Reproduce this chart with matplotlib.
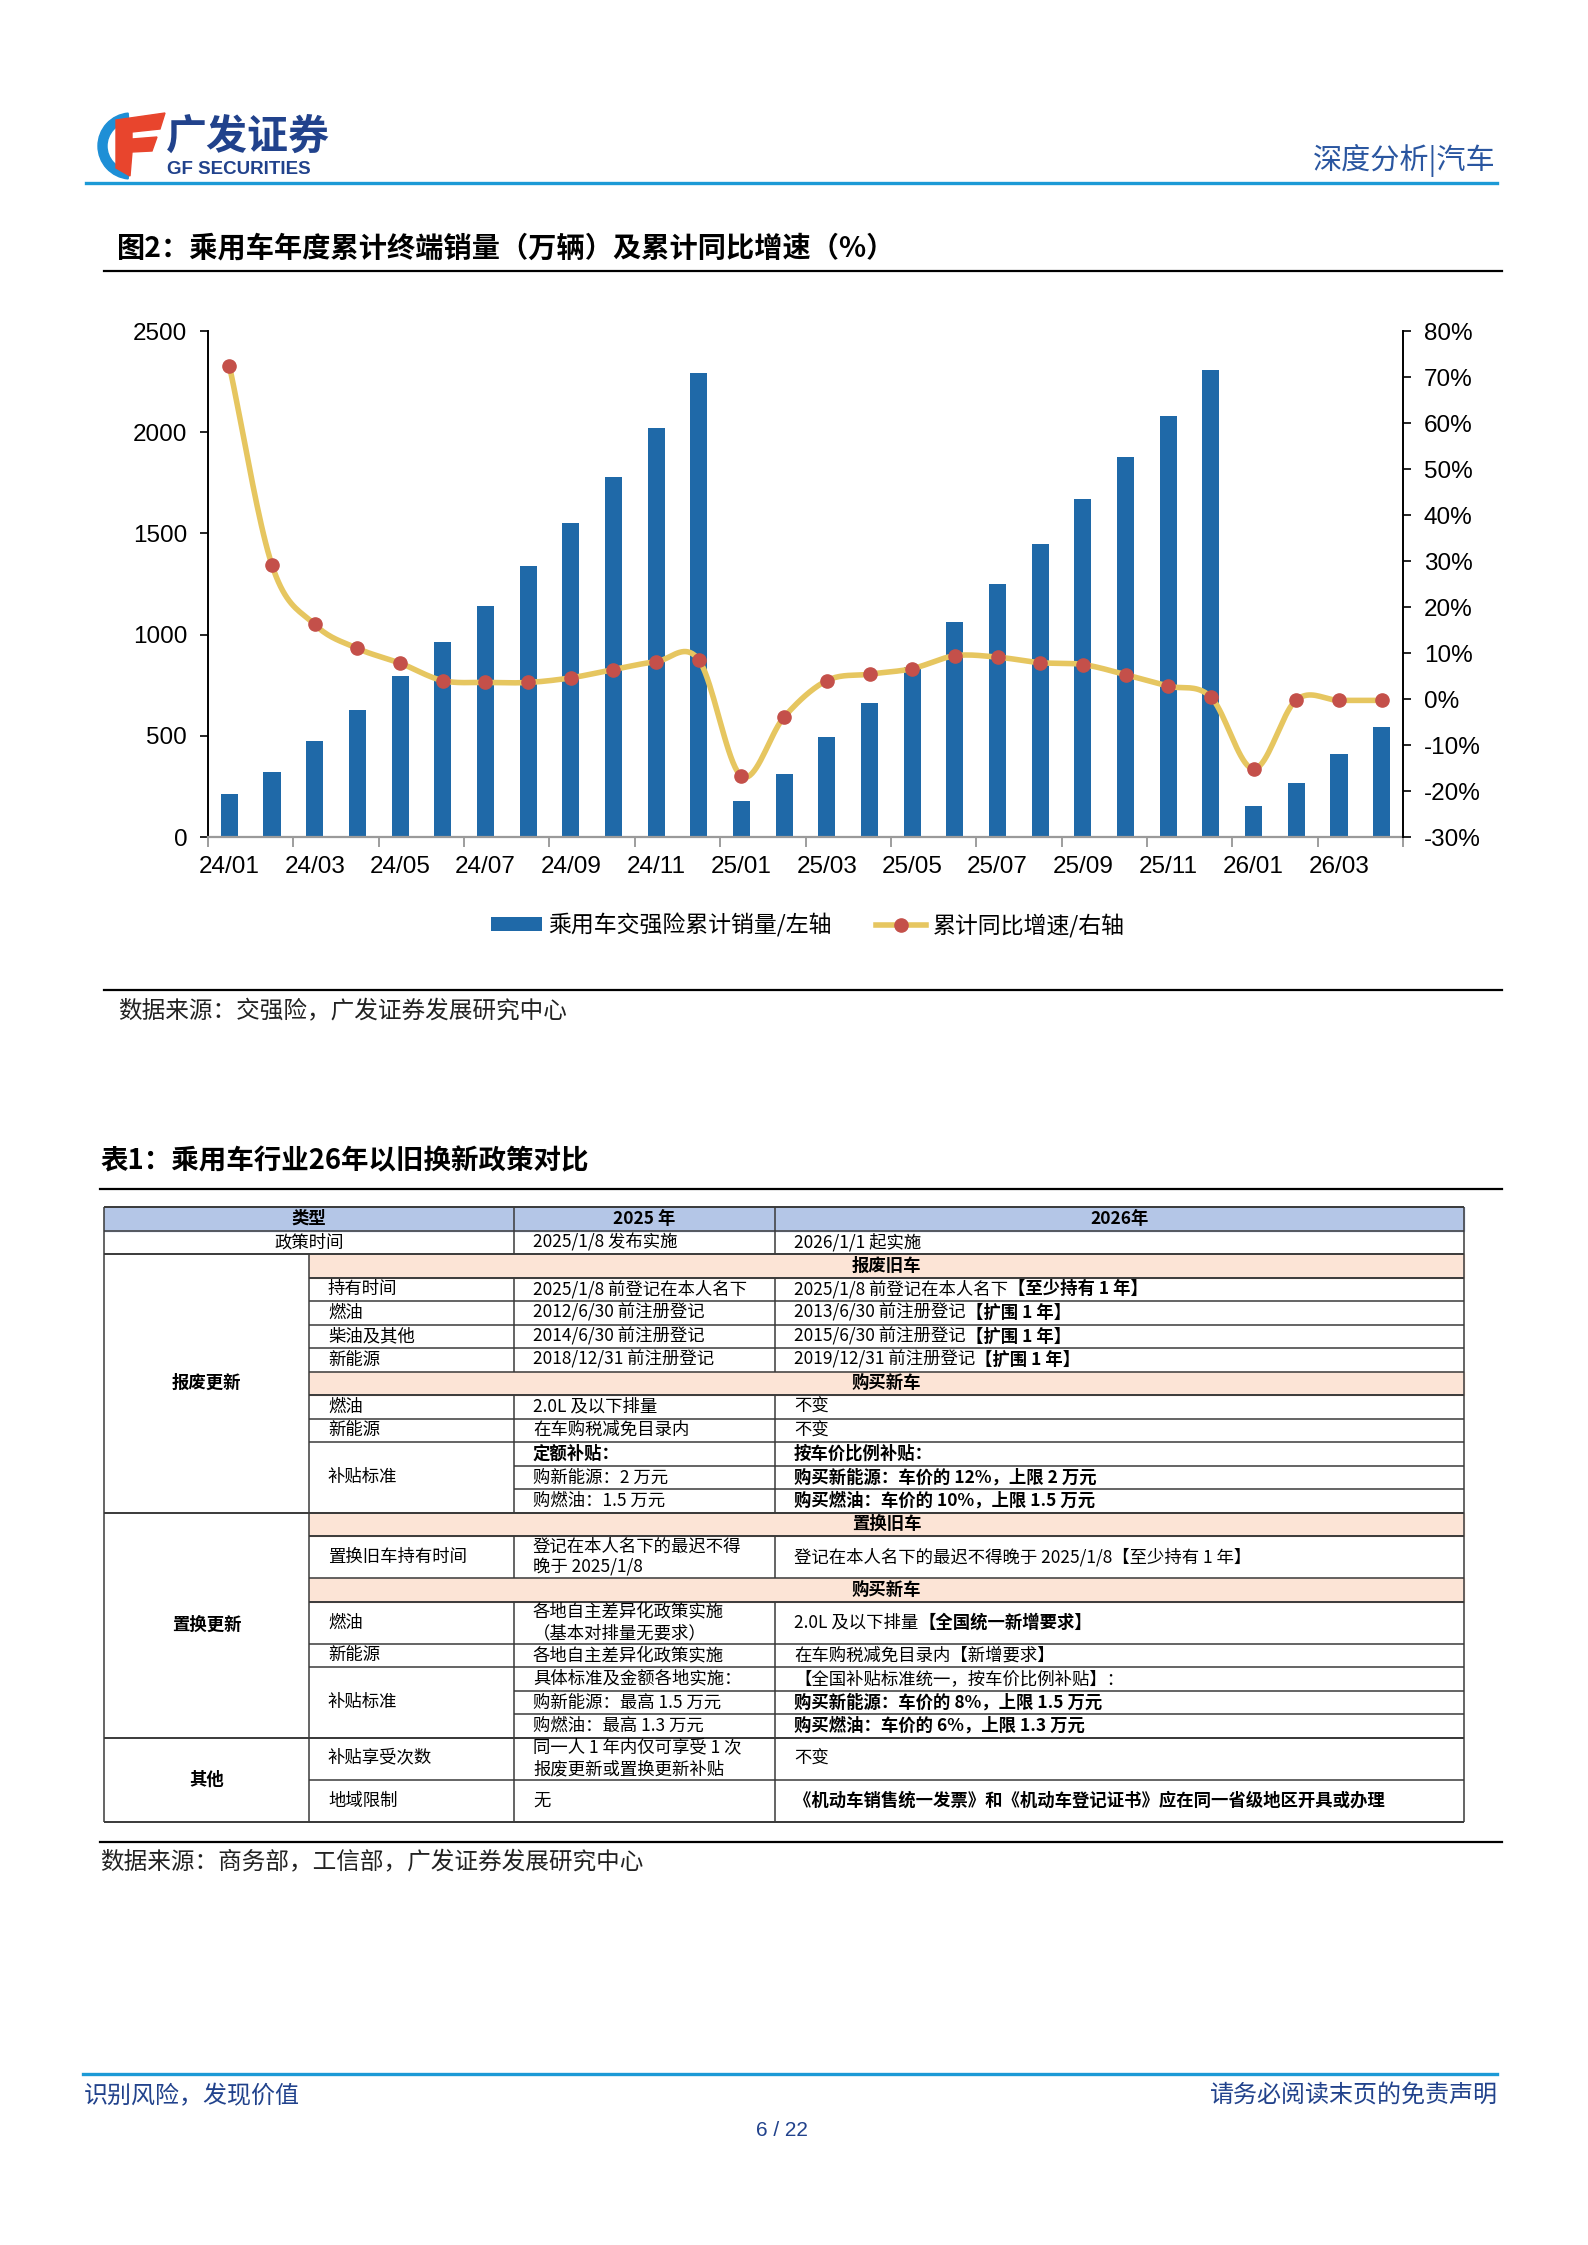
import numpy as np
import matplotlib
matplotlib.use('Agg')
import matplotlib.pyplot as plt
from matplotlib.patches import Rectangle, Wedge, Polygon
from matplotlib.lines import Line2D

plt.rcParams['font.family'] = ['Liberation Sans', 'Noto Sans CJK SC', 'DejaVu Sans']
CJK = ['Noto Sans CJK SC', 'DejaVu Sans']

# ---- chart data ----
months = ['24/01', '24/02', '24/03', '24/04', '24/05', '24/06', '24/07', '24/08',
          '24/09', '24/10', '24/11', '24/12', '25/01', '25/02', '25/03', '25/04',
          '25/05', '25/06', '25/07', '25/08', '25/09', '25/10', '25/11', '25/12',
          '26/01', '26/02', '26/03', '26/04']
sales = [212, 320, 473, 627, 795, 965, 1143, 1339, 1553, 1781, 2019, 2293,
         177, 309, 493, 663, 840, 1060, 1251, 1447, 1671, 1878, 2078, 2306,
         152, 265, 410, 544]
growth = [72.5, 29.1, 16.2, 11.0, 7.8, 4.0, 3.6, 3.6, 4.6, 6.4, 8.1, 8.5,
          -16.8, -3.9, 4.0, 5.4, 6.6, 9.4, 9.1, 7.9, 7.5, 5.3, 2.8, 0.4,
          -15.2, -0.2, -0.3, -0.3]
left_ticks = [0, 500, 1000, 1500, 2000, 2500]
right_ticks = [-30, -20, -10, 0, 10, 20, 30, 40, 50, 60, 70, 80]

BAR = '#1F69A8'
LINE = '#E6C660'
DOT = '#C4504A'
NAVY = '#21428C'

W, H = 1588, 2245
fig = plt.figure(figsize=(W / 100, H / 100), dpi=100)

# page overlay in pixel coords
ov = fig.add_axes([0, 0, 1, 1], zorder=0)
ov.set_xlim(0, W)
ov.set_ylim(H, 0)
ov.axis('off')


def smooth(xs, ys, n=20):
    # excel-like smoothed line (catmull-rom through the points)
    x = np.asarray(xs, float)
    y = np.asarray(ys, float)
    px = np.concatenate([[2 * x[0] - x[1]], x, [2 * x[-1] - x[-2]]])
    py = np.concatenate([[2 * y[0] - y[1]], y, [2 * y[-1] - y[-2]]])
    t = np.linspace(0, 1, n, endpoint=False)
    ox, oy = [], []
    for i in range(1, len(x)):
        for p, o in ((px, ox), (py, oy)):
            p0, p1, p2, p3 = p[i - 1], p[i], p[i + 1], p[i + 2]
            o.extend(0.5 * (2 * p1 + (-p0 + p2) * t + (2 * p0 - 5 * p1 + 4 * p2 - p3) * t ** 2
                            + (-p0 + 3 * p1 - 3 * p2 + p3) * t ** 3))
    ox.append(x[-1])
    oy.append(y[-1])
    return ox, oy


# ---- chart ----
ax = fig.add_axes([208 / W, 1 - 837 / H, (1403 - 208) / W, (837 - 331) / H], zorder=2)
ax.patch.set_alpha(0)
x = np.arange(len(months))
bars = ax.bar(x, sales, width=0.4, color=BAR, zorder=2)
ax.set_xlim(-0.5, len(months) - 0.5)
ax.set_ylim(0, 2500)
ax.set_yticks(left_ticks)
ax.set_xticks(x[::2])
ax.set_xticklabels(months[::2])
ax.set_xticks(np.arange(-0.5, len(months), 2), minor=True)
ax.tick_params(axis='x', which='major', length=0, pad=14, labelsize=17.5)
ax.tick_params(axis='x', which='minor', length=7, color='#8C8C8C', width=1.2, direction='out')
ax.tick_params(axis='y', length=6, width=1.2, pad=9, labelsize=17.5)
for s in ['top', 'right']:
    ax.spines[s].set_visible(False)
ax.spines['left'].set_linewidth(1.4)
ax.spines['bottom'].set_color('#9A9A9A')
ax.spines['bottom'].set_linewidth(1.6)

ax2 = ax.twinx()
ax2.set_ylim(-30, 80)
ax2.set_yticks(right_ticks)
ax2.set_yticklabels([f'{v}%' for v in right_ticks])
ax2.tick_params(axis='y', length=6, width=1.2, pad=9, labelsize=17.5)
for s in ['top', 'left', 'bottom']:
    ax2.spines[s].set_visible(False)
ax2.spines['right'].set_linewidth(1.4)
sx, sy = smooth(x, growth)
ax2.plot(sx, sy, color=LINE, lw=4.0, solid_capstyle='round', zorder=3)
ax2.plot(x, growth, 'o', color=DOT, ms=9.5, zorder=4)

line_handle = Line2D([], [], color=LINE, lw=4.0, marker='o', ms=9.5,
                     markerfacecolor=DOT, markeredgecolor=DOT)
fig.legend([bars, line_handle], ['乘用车交强险累计销量/左轴', '累计同比增速/右轴'],
           loc='center', bbox_to_anchor=(808 / W, 1 - 925 / H), ncol=2, frameon=False,
           prop={'family': CJK, 'size': 16.5}, handlelength=2.2, handleheight=0.55,
           handletextpad=0.3, columnspacing=1.9, numpoints=1)

# ---- page header ----
ov.add_patch(Wedge((131, 146), 33, 95, 265, width=9, color='#1E8FD6'))
ov.add_patch(Polygon([[116, 120], [165, 113], [160, 129], [132, 132], [132, 139],
                      [157, 137], [152, 151], [132, 152], [130, 176], [116, 168]],
                     closed=True, color='#E8452D'))
ov.text(166, 137, '广发证券', fontsize=29.5, fontweight='bold', color=NAVY,
        family=CJK, ha='left', va='center')
ov.text(167, 170, 'GF SECURITIES', fontsize=13.5, fontweight='bold', color=NAVY,
        ha='left', va='center')
ov.text(1496, 160, '深度分析|汽车', fontsize=21, color='#2A56A0', family=CJK,
        ha='right', va='center')
ov.plot([86, 1497], [183, 183], color='#1C9AD6', lw=2.4)

ov.text(117, 249, '图2：乘用车年度累计终端销量（万辆）及累计同比增速（%）', fontsize=20.3,
        fontweight='bold', family=CJK, ha='left', va='center')
ov.plot([104, 1502], [271, 271], color='black', lw=1.6)
ov.plot([104, 1502], [990, 990], color='black', lw=1.6)
ov.text(118, 1012, '数据来源：交强险，广发证券发展研究中心', fontsize=17, family=CJK,
        ha='left', va='center', color='#222222')

# ---- table ----
ov.text(100, 1161, '表1：乘用车行业26年以旧换新政策对比', fontsize=19.8, fontweight='bold',
        family=CJK, ha='left', va='center')
ov.plot([100, 1502], [1189, 1189], color='black', lw=1.6)

header = ['类型', '2025 年', '2026年']
policy_time = ['政策时间', '2025/1/8 发布实施', '2026/1/1 起实施']

B = 1  # bold
N = 0  # normal
groups = ['报废更新', '置换更新', '其他']
group_rows = [
    [
        ('pink', '报废旧车'),
        ('row', '持有时间', 1, [('2025/1/8 前登记在本人名下', N)],
         [('2025/1/8 前登记在本人名下', N), ('【至少持有 1 年】', B)], 1),
        ('row', '燃油', 1, [('2012/6/30 前注册登记', N)],
         [('2013/6/30 前注册登记', N), ('【扩围 1 年】', B)], 1),
        ('row', '柴油及其他', 1, [('2014/6/30 前注册登记', N)],
         [('2015/6/30 前注册登记', N), ('【扩围 1 年】', B)], 1),
        ('row', '新能源', 1, [('2018/12/31 前注册登记', N)],
         [('2019/12/31 前注册登记', N), ('【扩围 1 年】', B)], 1),
        ('pink', '购买新车'),
        ('row', '燃油', 1, [('2.0L 及以下排量', N)], [('不变', N)], 1),
        ('row', '新能源', 1, [('在车购税减免目录内', N)], [('不变', N)], 1),
        ('row', '补贴标准', 3, [('定额补贴：', B)], [('按车价比例补贴：', B)], 1),
        ('row', None, 0, [('购新能源：2 万元', N)], [('购买新能源：车价的 12%，上限 2 万元', B)], 1),
        ('row', None, 0, [('购燃油：1.5 万元', N)], [('购买燃油：车价的 10%，上限 1.5 万元', B)], 1),
    ],
    [
        ('pink', '置换旧车'),
        ('row', '置换旧车持有时间', 1, [('登记在本人名下的最迟不得\n晚于 2025/1/8', N)],
         [('登记在本人名下的最迟不得晚于 2025/1/8【至少持有 1 年】', N)], 2),
        ('pink', '购买新车'),
        ('row', '燃油', 1, [('各地自主差异化政策实施\n（基本对排量无要求）', N)],
         [('2.0L 及以下排量', N), ('【全国统一新增要求】', B)], 2),
        ('row', '新能源', 1, [('各地自主差异化政策实施', N)],
         [('在车购税减免目录内【新增要求】', N)], 1),
        ('row', '补贴标准', 3, [('具体标准及金额各地实施：', N)],
         [('【全国补贴标准统一，按车价比例补贴】：', N)], 1),
        ('row', None, 0, [('购新能源：最高 1.5 万元', N)], [('购买新能源：车价的 8%，上限 1.5 万元', B)], 1),
        ('row', None, 0, [('购燃油：最高 1.3 万元', N)], [('购买燃油：车价的 6%，上限 1.3 万元', B)], 1),
    ],
    [
        ('row', '补贴享受次数', 1, [('同一人 1 年内仅可享受 1 次\n报废更新或置换更新补贴', N)],
         [('不变', N)], 2),
        ('row', '地域限制', 1, [('无', N)],
         [('《机动车销售统一发票》和《机动车登记证书》应在同一省级地区开具或办理', B)], 2),
    ],
]

TOP = 1207
H1, H2 = 23.5, 42.0
C = [104, 309, 514, 775, 1464]
FS = 12.5
LC = '#3A3A3A'
LW = 1.1
PAD = 19


def hl(y, x0, x1, lw=LW):
    ov.plot([x0, x1], [y, y], color=LC, lw=lw, solid_capstyle='butt')


def vl(xp, y0, y1):
    ov.plot([xp, xp], [y0, y1], color=LC, lw=LW, solid_capstyle='butt')


def parts_text(xp, yp, parts):
    prev = None
    for s, b in parts:
        w = 'bold' if b else 'normal'
        if prev is None:
            prev = ov.text(xp, yp, s, fontsize=FS, fontweight=w, family=CJK,
                           ha='left', va='center', linespacing=1.25)
        else:
            prev = ov.annotate(s, xy=(1, 0.5), xycoords=prev, fontsize=FS, fontweight=w,
                               family=CJK, ha='left', va='center')


y = TOP
# header row
ov.add_patch(Rectangle((C[0], y), C[4] - C[0], H1, color='#B4C6E7', zorder=0))
ov.text((C[0] + C[2]) / 2, y + H1 / 2, header[0], fontsize=FS, fontweight='bold', family=CJK,
        ha='center', va='center')
ov.text((C[2] + C[3]) / 2, y + H1 / 2, header[1], fontsize=FS, fontweight='bold', family=CJK,
        ha='center', va='center')
ov.text((C[3] + C[4]) / 2, y + H1 / 2, header[2], fontsize=FS, fontweight='bold', family=CJK,
        ha='center', va='center')
hl(y, C[0], C[4], 1.4)
vl(C[2], y, y + H1)
vl(C[3], y, y + H1)
y += H1
hl(y, C[0], C[4])
# policy time row
ov.text((C[0] + C[2]) / 2, y + H1 / 2, policy_time[0], fontsize=FS, family=CJK,
        ha='center', va='center')
parts_text(C[2] + PAD, y + H1 / 2, [(policy_time[1], N)])
parts_text(C[3] + PAD, y + H1 / 2, [(policy_time[2], N)])
vl(C[2], y, y + H1)
vl(C[3], y, y + H1)
y += H1
hl(y, C[0], C[4], 1.4)

for gname, rows in zip(groups, group_rows):
    g_top = y
    heights = [H1 if r[0] == 'pink' else (H1 if r[5] == 1 else H2) for r in rows]
    for i, r in enumerate(rows):
        h = heights[i]
        if r[0] == 'pink':
            ov.add_patch(Rectangle((C[1], y), C[4] - C[1], h, color='#FCE4D6', zorder=0))
            ov.text((C[1] + C[4]) / 2, y + h / 2, r[1], fontsize=FS, fontweight='bold',
                    family=CJK, ha='center', va='center')
            hl(y + h, C[1], C[4], 1.4)
        else:
            _, label, span, p3, p4, _ = r
            if label is not None:
                sh = sum(heights[i:i + span])
                parts_text(C[1] + PAD, y + sh / 2, [(label, N)])
            parts_text(C[2] + PAD, y + h / 2, p3)
            parts_text(C[3] + PAD, y + h / 2, p4)
            vl(C[2], y, y + h)
            vl(C[3], y, y + h)
            nxt = rows[i + 1] if i + 1 < len(rows) else None
            if nxt is not None and nxt[0] == 'row' and nxt[1] is None:
                hl(y + h, C[2], C[4])
            else:
                hl(y + h, C[1], C[4])
        y += h
    ov.text((C[0] + C[1]) / 2, (g_top + y) / 2, gname, fontsize=FS, fontweight='bold',
            family=CJK, ha='center', va='center')
    vl(C[1], g_top, y)
    hl(y, C[0], C[4], 1.4)

vl(C[0], TOP, y)
vl(C[4], TOP, y)

ov.plot([100, 1502], [1842, 1842], color='black', lw=1.6)
ov.text(100, 1863, '数据来源：商务部，工信部，广发证券发展研究中心', fontsize=17, family=CJK,
        ha='left', va='center', color='#222222')

# ---- footer ----
ov.plot([83, 1497], [2074, 2074], color='#1C9AD6', lw=2.4)
ov.text(84, 2096, '识别风险，发现价值', fontsize=17.3, color=NAVY, family=CJK,
        ha='left', va='center')
ov.text(1498, 2096, '请务必阅读末页的免责声明', fontsize=17.3, color=NAVY, family=CJK,
        ha='right', va='center')
ov.text(782, 2131, '6 / 22', fontsize=15, color=NAVY, ha='center', va='center')

fig.savefig('out.png', dpi=100)
